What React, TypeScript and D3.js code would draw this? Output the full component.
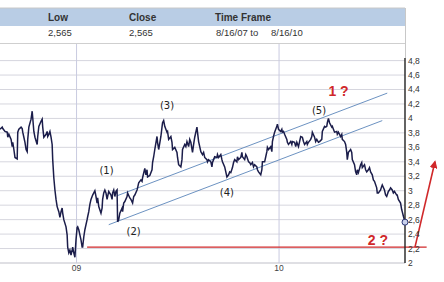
import React from "react";
import * as d3 from "d3";

// ---- price series (daily closes) ----
const dates = [
  "2008-08-16","2008-08-20","2008-08-21","2008-08-25","2008-08-29","2008-08-30",
  "2008-09-01","2008-09-05","2008-09-07","2008-09-08","2008-09-10","2008-09-12","2008-09-16","2008-09-17","2008-09-19","2008-09-23","2008-09-25","2008-09-26","2008-09-28","2008-09-30",
  "2008-10-02","2008-10-04","2008-10-05","2008-10-07","2008-10-11","2008-10-13","2008-10-14","2008-10-16","2008-10-18","2008-10-22","2008-10-23","2008-10-25","2008-10-29","2008-10-31",
  "2008-11-01","2008-11-03","2008-11-07","2008-11-09","2008-11-10","2008-11-12","2008-11-14","2008-11-16","2008-11-18","2008-11-19","2008-11-21","2008-11-23","2008-11-25","2008-11-27","2008-11-30",
  "2008-12-02","2008-12-04","2008-12-06","2008-12-07","2008-12-09","2008-12-13","2008-12-15","2008-12-16","2008-12-18","2008-12-20","2008-12-22","2008-12-24","2008-12-25","2008-12-27","2008-12-29","2008-12-31",
  "2009-01-02","2009-01-03","2009-01-05","2009-01-07","2009-01-09","2009-01-11","2009-01-12","2009-01-14","2009-01-16","2009-01-20","2009-01-21","2009-01-23","2009-01-25","2009-01-27","2009-01-29","2009-01-30",
  "2009-02-03","2009-02-05","2009-02-07","2009-02-08","2009-02-10","2009-02-14","2009-02-16","2009-02-17","2009-02-19","2009-02-21","2009-02-23","2009-02-25","2009-02-26","2009-02-28",
  "2009-03-04","2009-03-06","2009-03-07","2009-03-09","2009-03-11","2009-03-13","2009-03-15","2009-03-16","2009-03-18","2009-03-20","2009-03-24","2009-03-25","2009-03-27","2009-03-29",
  "2009-04-02","2009-04-03","2009-04-07","2009-04-09","2009-04-12","2009-04-14","2009-04-16","2009-04-20","2009-04-21","2009-04-23","2009-04-27","2009-04-29","2009-04-30",
  "2009-05-04","2009-05-06","2009-05-08","2009-05-09","2009-05-13","2009-05-17","2009-05-18","2009-05-20","2009-05-22","2009-05-26","2009-05-27","2009-05-29",
  "2009-06-02","2009-06-04","2009-06-05","2009-06-07","2009-06-09","2009-06-13","2009-06-14","2009-06-16","2009-06-20","2009-06-22","2009-06-23","2009-06-27",
  "2009-07-01","2009-07-02","2009-07-04","2009-07-08","2009-07-10","2009-07-11","2009-07-15","2009-07-17","2009-07-19","2009-07-22","2009-07-24","2009-07-26","2009-07-29","2009-07-31",
  "2009-08-02","2009-08-06","2009-08-07","2009-08-09","2009-08-11","2009-08-13","2009-08-16","2009-08-18","2009-08-20","2009-08-24","2009-08-25","2009-08-27","2009-08-31",
  "2009-09-02","2009-09-03","2009-09-05","2009-09-07","2009-09-11","2009-09-12","2009-09-14","2009-09-18","2009-09-20","2009-09-21","2009-09-25","2009-09-27","2009-09-29",
  "2009-10-02","2009-10-04","2009-10-06","2009-10-09","2009-10-11","2009-10-13","2009-10-17","2009-10-18","2009-10-20","2009-10-24","2009-10-26","2009-10-27","2009-10-31",
  "2009-11-02","2009-11-04","2009-11-07","2009-11-09","2009-11-11","2009-11-14","2009-11-16","2009-11-18","2009-11-22","2009-11-23","2009-11-25","2009-11-29",
  "2009-12-01","2009-12-02","2009-12-06","2009-12-08","2009-12-10","2009-12-11","2009-12-13","2009-12-17","2009-12-19","2009-12-20","2009-12-22","2009-12-24","2009-12-26","2009-12-28","2009-12-29","2009-12-31",
  "2010-01-04","2010-01-06","2010-01-07","2010-01-09","2010-01-11","2010-01-15","2010-01-16","2010-01-18","2010-01-22","2010-01-24","2010-01-25","2010-01-29","2010-01-31",
  "2010-02-02","2010-02-05","2010-02-07","2010-02-09","2010-02-12","2010-02-14","2010-02-16","2010-02-20","2010-02-21","2010-02-23","2010-02-27",
  "2010-03-01","2010-03-02","2010-03-06","2010-03-08","2010-03-10","2010-03-13","2010-03-15","2010-03-19","2010-03-20","2010-03-24","2010-03-26","2010-03-28","2010-03-29","2010-03-31",
  "2010-04-02","2010-04-06","2010-04-07","2010-04-09","2010-04-11","2010-04-15","2010-04-16","2010-04-18","2010-04-22","2010-04-24","2010-04-25","2010-04-29",
  "2010-05-01","2010-05-03","2010-05-04","2010-05-06","2010-05-10","2010-05-12","2010-05-13","2010-05-17","2010-05-19","2010-05-21","2010-05-22","2010-05-24","2010-05-28","2010-05-30","2010-05-31",
  "2010-06-04","2010-06-06","2010-06-08","2010-06-11","2010-06-13","2010-06-15","2010-06-18","2010-06-20","2010-06-22","2010-06-26","2010-06-27","2010-06-29",
  "2010-07-03","2010-07-05","2010-07-06","2010-07-10","2010-07-12","2010-07-14","2010-07-17","2010-07-19","2010-07-21","2010-07-24","2010-07-26","2010-07-28",
  "2010-08-01","2010-08-02","2010-08-04","2010-08-08","2010-08-10","2010-08-11","2010-08-13","2010-08-16",
];
const closes = [
  3.85,3.88,3.86,3.82,3.81,3.74,
  3.78,3.71,3.61,3.67,3.57,3.46,3.44,3.81,3.85,3.88,3.86,3.81,3.74,3.67,
  3.57,3.54,3.71,3.88,3.99,4.10,4.01,3.82,3.74,3.64,3.75,3.89,3.96,3.99,
  3.88,3.74,3.78,3.82,3.75,3.78,3.82,3.74,3.64,3.43,3.18,3.01,2.88,2.78,2.71,
  2.63,2.71,2.76,2.69,2.60,2.50,2.39,2.22,2.14,2.18,2.11,2.18,2.22,2.14,2.08,2.32,
  2.49,2.50,2.46,2.39,2.32,2.22,2.22,2.36,2.46,2.60,2.64,2.71,2.81,2.88,2.92,2.94,
  3.00,2.92,2.83,2.90,2.78,2.69,2.76,2.88,2.97,3.01,2.97,2.88,2.92,2.99,
  2.94,2.88,2.97,3.01,2.92,2.99,3.01,2.57,2.60,2.69,2.76,2.71,2.83,2.85,
  2.92,2.97,2.90,2.88,2.83,2.92,2.94,3.01,3.04,3.11,3.15,3.13,3.18,
  3.31,3.22,3.29,3.19,3.21,3.29,3.39,3.47,3.57,3.75,3.67,3.57,
  3.75,3.88,3.94,3.97,3.89,3.81,3.82,3.71,3.75,3.67,3.57,3.60,
  3.53,3.46,3.36,3.33,3.43,3.57,3.64,3.61,3.68,3.61,3.71,3.67,3.53,3.64,
  3.74,3.88,3.81,3.68,3.61,3.54,3.50,3.53,3.46,3.43,3.40,3.43,3.40,
  3.33,3.39,3.43,3.47,3.46,3.50,3.46,3.50,3.43,3.40,3.33,3.26,3.19,
  3.22,3.26,3.25,3.32,3.39,3.43,3.40,3.47,3.43,3.46,3.53,3.47,3.43,
  3.50,3.47,3.40,3.39,3.36,3.39,3.33,3.36,3.33,3.29,3.26,3.22,
  3.29,3.40,3.40,3.47,3.54,3.60,3.57,3.61,3.54,3.68,3.75,3.81,3.85,3.89,3.92,3.85,
  3.82,3.85,3.81,3.82,3.78,3.71,3.67,3.64,3.68,3.64,3.68,3.67,3.61,
  3.67,3.61,3.68,3.75,3.74,3.68,3.64,3.68,3.64,3.67,3.71,
  3.75,3.81,3.74,3.68,3.71,3.67,3.68,3.71,3.82,3.89,3.88,3.89,3.94,4.00,
  3.94,3.88,3.89,3.85,3.81,3.82,3.78,3.81,3.75,3.78,3.71,3.68,
  3.64,3.53,3.43,3.53,3.57,3.53,3.43,3.36,3.26,3.22,3.29,3.25,3.36,3.39,3.32,
  3.36,3.29,3.26,3.29,3.32,3.26,3.22,3.15,3.13,3.04,2.97,2.97,
  3.01,3.06,3.08,3.01,2.94,2.92,2.99,3.01,3.04,3.01,2.97,2.99,
  2.94,2.94,2.88,2.83,2.74,2.71,2.65,2.565,
];

// ---- axes ----
const xDomain = ["2008-08-16", "2010-08-16"];
const yTicks = [2, 2.2, 2.4, 2.6, 2.8, 3, 3.2, 3.4, 3.6, 3.8, 4, 4.2, 4.4, 4.6, 4.8];
const xTickDates = ["2009-01-01", "2010-01-01"];
const xTickLabels = ["09", "10"];

// ---- header table ----
const headerLabels = ["Low", "Close", "Time Frame"];
const headerValues = ["2,565", "2,565", "8/16/07 to", "8/16/10"];

// ---- annotations ----
const waveLabels = ["(1)", "(2)", "(3)", "(4)", "(5)"];
const waveDates = ["2009-02-24", "2009-04-14", "2009-06-13", "2009-09-29", "2010-03-14"];
const waveValues = [3.28, 2.44, 4.18, 2.97, 4.11];
const channelUpperDates = ["2009-03-15", "2010-07-15"];
const channelUpperValues = [2.93, 4.35];
const channelLowerDates = ["2009-02-28", "2010-07-06"];
const channelLowerValues = [2.53, 3.97];
const supportDates = ["2009-01-20", "2010-09-24"];
const supportValue = 2.22;
const arrowDates = ["2010-09-03", "2010-10-09"];
const arrowValues = [2.22, 3.4];
const targetLabels = ["1 ?", "2 ?"];
const targetDates = ["2010-03-31", "2010-06-10"];
const targetValues = [4.31, 2.25];

const W = 444;
const H = 282;
const parse = d3.utcParse("%Y-%m-%d");
const locale = d3.formatLocale({ decimal: ",", thousands: ".", grouping: [3], currency: ["", ""] });
const fmt = locale.format("~g");

export default function App() {
  const x = d3.scaleUtc().domain(xDomain.map((d) => parse(d) as Date)).range([0, 405]);
  const y = d3.scaleLinear().domain([2, 4.8]).range([263, 60.6]);
  const series = dates.map((d, i) => ({ date: parse(d) as Date, v: closes[i] }));
  const line = d3
    .line<{ date: Date; v: number }>()
    .x((d) => x(d.date))
    .y((d) => y(d.v));
  const seg = (ds: string[], vs: number[]) =>
    line(ds.map((d, i) => ({ date: parse(d) as Date, v: vs[i] }))) || "";
  const last = series[series.length - 1];
  const axisX = x.range()[1];
  const red = "#d0282a";
  const headerX = [48, 129, 215];
  const valueX = [48, 129, 216, 271];

  return (
    <svg
      width={W}
      height={H}
      style={{ position: "absolute", left: 0, top: 0, background: "#fff" }}
      fontFamily="'Liberation Sans', Arial, sans-serif"
    >
      <defs>
        <marker id="ah" viewBox="0 0 10 10" refX="8" refY="5" markerWidth="8" markerHeight="8"
          markerUnits="userSpaceOnUse" orient="auto">
          <path d="M0,0L10,5L0,10z" fill={red} />
        </marker>
      </defs>

      {/* header table */}
      <rect x={0} y={8} width={axisX} height={18} fill="#b9cde5" />
      <line x1={0} x2={axisX} y1={8} y2={8} stroke="#c8c8c8" />
      <line x1={0} x2={axisX} y1={43.5} y2={43.5} stroke="#cfcfcf" />
      <line x1={axisX + 0.5} x2={axisX + 0.5} y1={8} y2={58} stroke="#c8c8c8" />
      {headerLabels.map((t, i) => (
        <text key={t} x={headerX[i]} y={21} fontSize={10} fontWeight="bold" fill="#333">{t}</text>
      ))}
      {headerValues.map((t, i) => (
        <text key={i} x={valueX[i]} y={36} fontSize={9.5} fill="#333">{t}</text>
      ))}

      {/* gridlines */}
      {yTicks.map((t) => (
        <line key={t} x1={0} x2={axisX} y1={y(t)} y2={y(t)} stroke={t === 2 ? "#bfbfc8" : "#d6d6de"} />
      ))}
      {xTickDates.map((d) => (
        <line key={d} x1={x(parse(d) as Date)} x2={x(parse(d) as Date)} y1={44} y2={263} stroke="#c9cbe0" />
      ))}

      {/* channel */}
      <path d={seg(channelUpperDates, channelUpperValues)} stroke="#5b86ba" strokeWidth={0.9} fill="none" />
      <path d={seg(channelLowerDates, channelLowerValues)} stroke="#5b86ba" strokeWidth={0.9} fill="none" />

      {/* price */}
      <path d={line(series) || ""} fill="none" stroke="#1b1d4a" strokeWidth={1.5} strokeLinejoin="miter" />

      {/* support + arrow */}
      <line
        x1={x(parse(supportDates[0]) as Date)}
        x2={x(parse(supportDates[1]) as Date)}
        y1={y(supportValue)}
        y2={y(supportValue)}
        stroke={red}
        strokeWidth={1.2}
      />
      <path d={seg(arrowDates, arrowValues)} stroke={red} strokeWidth={1.6} fill="none" markerEnd="url(#ah)" />

      {/* right axis */}
      <line x1={axisX} x2={axisX} y1={58} y2={263} stroke="#222" strokeWidth={1.4} />
      {yTicks.map((t) => (
        <text key={t} x={axisX + 3} y={y(t)} dy="0.35em" fontSize={8.5} fill="#333">{fmt(t)}</text>
      ))}
      {xTickDates.map((d, i) => (
        <text key={d} x={x(parse(d) as Date)} y={271} fontSize={8.5} fill="#444" textAnchor="middle">{xTickLabels[i]}</text>
      ))}

      <circle cx={x(last.date)} cy={y(last.v)} r={3} fill="#c9d1ec" stroke="#2a3575" strokeWidth={1} />

      {/* wave labels */}
      {waveLabels.map((t, i) => (
        <text key={t} x={x(parse(waveDates[i]) as Date)} y={y(waveValues[i])} dy="0.35em" textAnchor="middle"
          fontSize={10} fontFamily="'DejaVu Sans', sans-serif" fill="#222">{t}</text>
      ))}
      {targetLabels.map((t, i) => (
        <text key={t} x={x(parse(targetDates[i]) as Date)} y={y(targetValues[i])} fontSize={14}
          fontWeight="bold" fill={red}>{t}</text>
      ))}
    </svg>
  );
}
